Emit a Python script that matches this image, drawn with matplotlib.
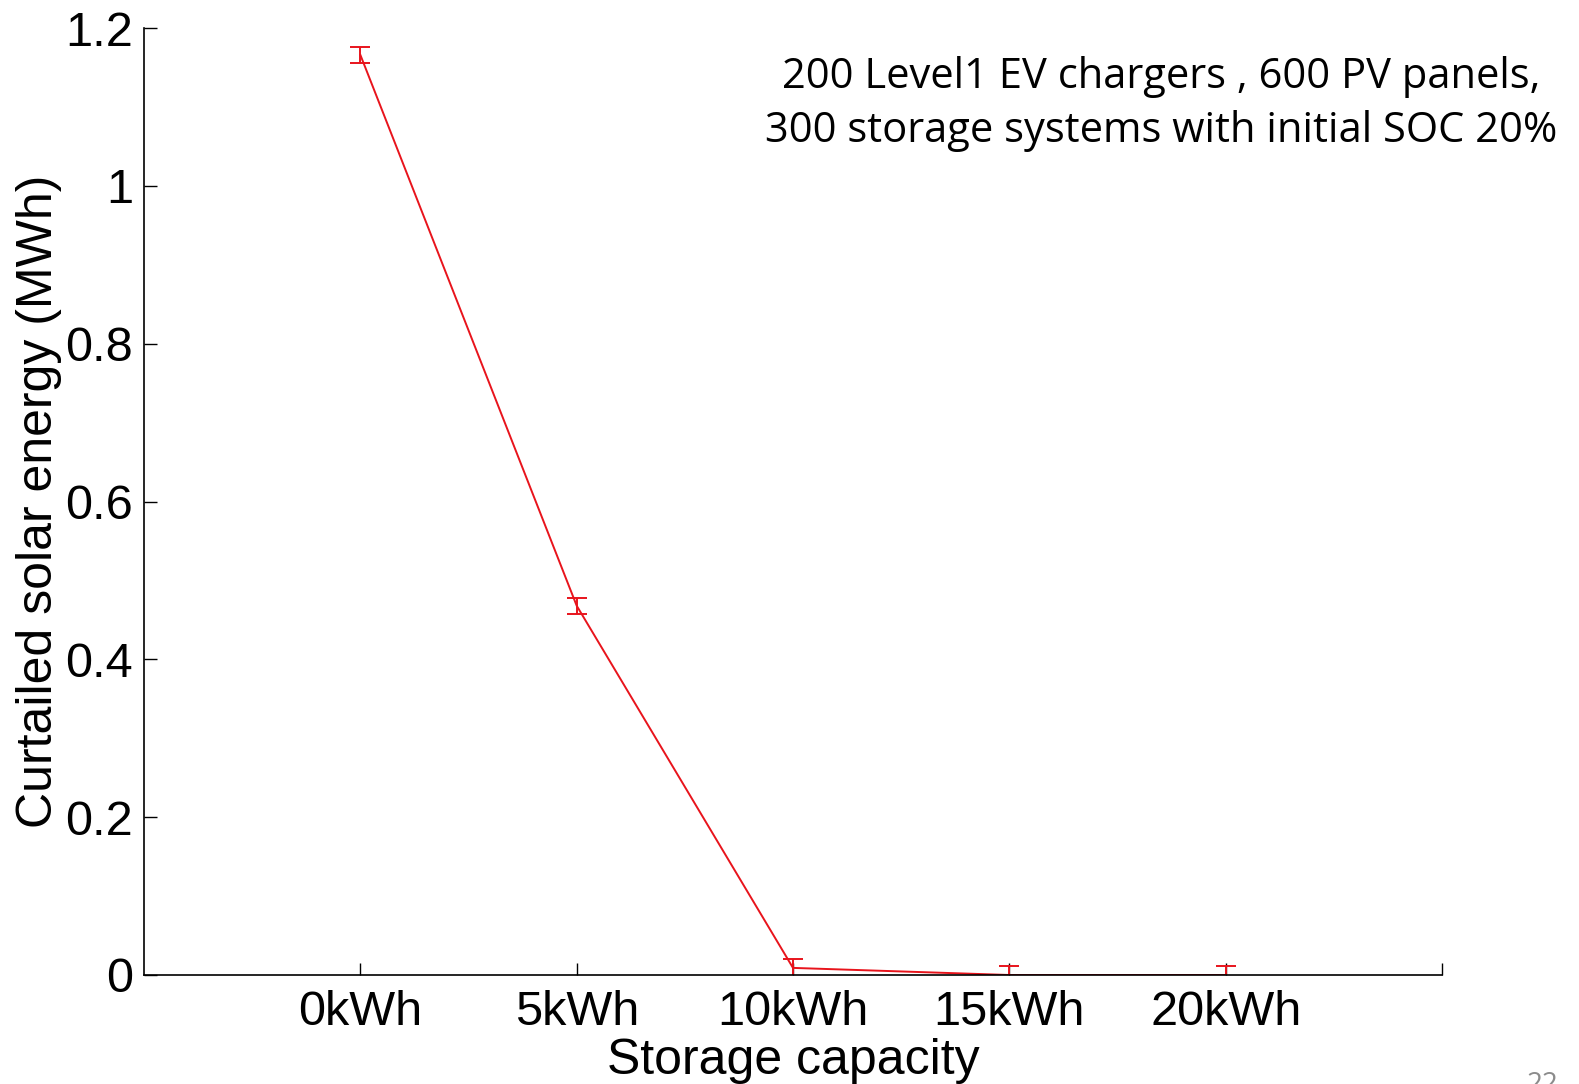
import matplotlib
matplotlib.use("Agg")
import matplotlib.pyplot as plt

categories = ["0kWh", "5kWh", "10kWh", "15kWh", "20kWh"]
curtailed = [1.166, 0.468, 0.009, 0.0, 0.0]
errors = [0.010, 0.010, 0.011, 0.011, 0.011]
yticks = [0, 0.2, 0.4, 0.6, 0.8, 1.0, 1.2]
ytick_labels = ["0", "0.2", "0.4", "0.6", "0.8", "1", "1.2"]

W, H = 1579, 1084
fig = plt.figure(figsize=(W / 100, H / 100), dpi=100)
ax = fig.add_axes([144 / W, 109 / H, (1442 - 144) / W, (975 - 28) / H])

x = list(range(1, len(categories) + 1))
ax.errorbar(x, curtailed, yerr=errors, color="#e8141c", lw=1.4,
            elinewidth=1.4, capsize=7, capthick=1.4, clip_on=True)

ax.set_xlim(0, 6)
ax.set_ylim(0, 1.2)
ax.set_xticks(x + [6])
ax.set_xticklabels(categories + [""])
ax.set_yticks(yticks)
ax.set_yticklabels(ytick_labels)

for s in ["top", "right"]:
    ax.spines[s].set_visible(False)
for s in ["left", "bottom"]:
    ax.spines[s].set_linewidth(1.2)

ax.tick_params(direction="in", length=9, width=1.0, labelsize=35, pad=11)
ax.tick_params(axis="y", pad=8)
for lab in ax.get_xticklabels() + ax.get_yticklabels():
    lab.set_fontfamily("Liberation Sans")

ax.set_xlabel("Storage capacity", fontsize=36, family="Liberation Sans", labelpad=2)
ax.set_ylabel("Curtailed solar energy (MWh)", fontsize=36, family="Liberation Sans", labelpad=2)

fig.text(1161 / W, 1 - 104 / H, "200 Level1 EV chargers , 600 PV panels,\n300 storage systems with initial SOC 20%",
         ha="center", va="center", fontsize=30, family="Open Sans", linespacing=1.35)

fig.text(1543 / W, 1 - 1071 / H, "22", ha="center", va="top", fontsize=20,
         family="Open Sans", color="#8c8c8c")

fig.savefig("out.png", dpi=100)
